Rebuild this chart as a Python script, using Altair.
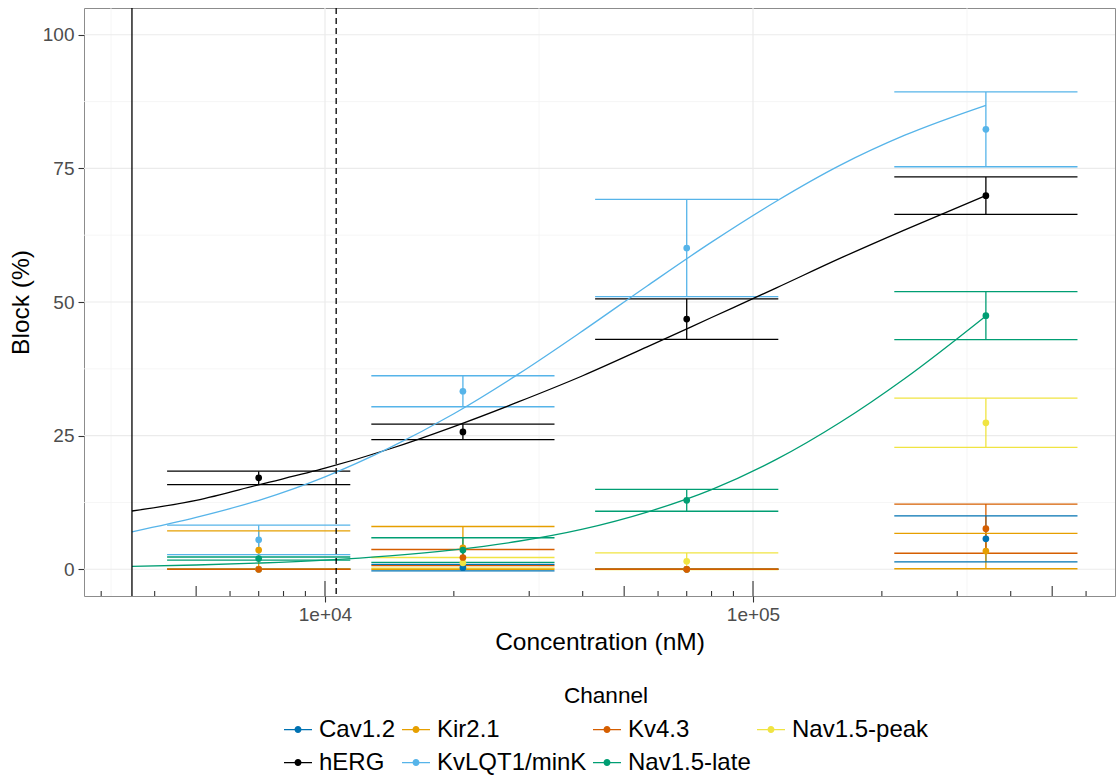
import altair as alt
import pandas as pd

# ---------------- data ----------------
channels = ["Cav1.2", "Kir2.1", "Kv4.3", "Nav1.5-peak", "hERG", "KvLQT1/minK", "Nav1.5-late"]
colors = ["#0072B2", "#E69F00", "#D55E00", "#F0E442", "#000000", "#56B4E9", "#009E73"]
draw_order = ["Cav1.2", "Nav1.5-peak", "Kir2.1", "Kv4.3", "Nav1.5-late", "hERG", "KvLQT1/minK"]

conc = [7000, 21000, 70000, 350000]
block_mean = {
    "Cav1.2":      [0.0, 0.3, 0.0, 5.7],
    "Kir2.1":      [3.6, 4.0, 0.0, 3.4],
    "Kv4.3":       [0.0, 2.2, 0.0, 7.6],
    "Nav1.5-peak": [0.0, 1.2, 1.5, 27.4],
    "hERG":        [17.1, 25.7, 46.8, 69.9],
    "KvLQT1/minK": [5.5, 33.3, 60.1, 82.3],
    "Nav1.5-late": [2.0, 3.6, 12.9, 47.45],
}
block_err = {
    "Cav1.2":      [0.0, 0.6, 0.0, 4.3],
    "Kir2.1":      [3.6, 4.0, 0.0, 3.3],
    "Kv4.3":       [0.0, 1.5, 0.0, 4.6],
    "Nav1.5-peak": [0.0, 1.0, 1.55, 4.6],
    "hERG":        [1.25, 1.45, 3.8, 3.5],
    "KvLQT1/minK": [2.75, 2.9, 9.1, 7.0],
    "Nav1.5-late": [0.3, 2.3, 2.05, 4.5],
}

# fitted curves
curve_conc = [3540, 5000, 7070, 10000, 14140, 20000, 28280, 40000, 56570, 80000,
              113100, 160000, 226300, 350000]
curve_block = {
    "hERG":        [10.9, 12.9, 15.9, 18.9, 22.5, 26.7, 31.3, 36.2, 41.6, 47.1,
                    52.6, 58.2, 63.5, 69.9],
    "KvLQT1/minK": [7.0, 9.7, 13.0, 17.3, 22.7, 29.1, 36.5, 44.6, 53.0, 61.2,
                    68.8, 75.6, 81.2, 86.8],
    "Nav1.5-late": [0.55, 0.80, 1.17, 1.71, 2.50, 3.63, 5.24, 7.51, 10.7, 14.9,
                    20.5, 27.5, 35.7, 47.4],
}

vline_solid = [3540]
vline_dashed = [10620]

x_tick_values = [10000, 100000]
x_tick_labels = ["1e+04", "1e+05"]
x_minor = [3162.3, 31622.8, 316227.8]
y_tick_values = [0, 25, 50, 75, 100]
y_minor = [12.5, 37.5, 62.5, 87.5]

logticks_short = [3000, 4000, 6000, 7000, 8000, 9000, 20000, 30000, 40000, 60000, 70000,
                  80000, 90000, 200000, 300000, 400000, 600000]
logticks_mid = [5000, 50000, 500000]
logticks_long = [10000, 100000]

# ---------------- layout ----------------
W, H = 1031, 588
PAD_L, PAD_T = 84, 8
CAP = 10 ** 0.214
FONT = "Liberation Sans"

rows = []
for ch in draw_order:
    for c, m, e in zip(conc, block_mean[ch], block_err[ch]):
        rows.append(dict(channel=ch, conc=c, block=m, lo=m - e, hi=m + e,
                         c_lo=c / CAP, c_hi=c * CAP))
df = pd.DataFrame(rows)

crow = []
for ch, vals in curve_block.items():
    for c, v in zip(curve_conc, vals):
        crow.append(dict(channel=ch, conc=c, block=v))
dfc = pd.DataFrame(crow)

xs = alt.Scale(type="log", domain=[2735, 701000], nice=False)
ys = alt.Scale(domain=[-5, 105], nice=False, zero=False)
cs = alt.Scale(domain=channels, range=colors)

label_expr = " : ".join(
    f"datum.value == {v} ? '{l}'" for v, l in zip(x_tick_values, x_tick_labels)) + " : ''"

x_axis = alt.Axis(
    values=x_tick_values, labelExpr=label_expr,
    grid=False, domain=False, tickSize=6, tickColor="#333333", tickWidth=1.1,
    labelFontSize=19, labelColor="#4D4D4D", labelPadding=3,
    titleFontSize=24.5, titleColor="black", titlePadding=6, titleFontWeight="normal")
y_axis = alt.Axis(
    values=y_tick_values, grid=False, domain=False,
    tickSize=6, tickColor="#333333", tickWidth=1.1,
    labelFontSize=19, labelColor="#4D4D4D", labelPadding=4,
    titleFontSize=24.5, titleColor="black", titlePadding=9, titleFontWeight="normal")

LEG_PATH = ("M-1,-0.048H1V0.048H-1Z "
            "M0.25,0A0.25,0.25 0 1 1 -0.25,0A0.25,0.25 0 1 1 0.25,0Z")
legend = alt.Legend(
    title="Channel", orient="none", legendX=200, legendY=677,
    direction="horizontal", columns=4, symbolType=LEG_PATH, symbolSize=784,
    symbolStrokeWidth=0, symbolOpacity=1, labelFontSize=24, titleFontSize=22.6,
    titleAnchor="middle", columnPadding=6, rowPadding=7, labelOffset=7,
    titlePadding=8, labelColor="black", titleColor="black",
    titleFontWeight="normal", labelLimit=0)


def xq(f):
    return alt.X(f, type="quantitative", scale=xs, axis=x_axis, title="Concentration (nM)")


def yq(f):
    return alt.Y(f, type="quantitative", scale=ys, axis=y_axis, title="Block (%)")


color = alt.Color("channel:N", scale=cs, legend=legend, title="Channel")

grid_minor_x = alt.Chart(pd.DataFrame({"v": x_minor})).mark_rule(
    color="#F4F4F4", strokeWidth=0.8).encode(x=xq("v"))
grid_minor_y = alt.Chart(pd.DataFrame({"v": y_minor})).mark_rule(
    color="#F4F4F4", strokeWidth=0.8).encode(y=yq("v"))
grid_major_x = alt.Chart(pd.DataFrame({"v": x_tick_values})).mark_rule(
    color="#EBEBEB", strokeWidth=1.2).encode(x=xq("v"))
grid_major_y = alt.Chart(pd.DataFrame({"v": y_tick_values})).mark_rule(
    color="#EBEBEB", strokeWidth=1.2).encode(y=yq("v"))

vsolid = alt.Chart(pd.DataFrame({"v": vline_solid})).mark_rule(
    color="black", strokeWidth=1.3).encode(x=xq("v"))
vdash = alt.Chart(pd.DataFrame({"v": vline_dashed})).mark_rule(
    color="black", strokeWidth=1.3, strokeDash=[6, 4]).encode(x=xq("v"))


def logtick(vals, length):
    return alt.Chart(pd.DataFrame({"v": vals})).mark_rule(
        color="#333333", strokeWidth=1.1).encode(
        x=xq("v"), y=alt.value(H), y2=alt.value(H - length))


lt_s = logtick(logticks_short, 5)
lt_m = logtick(logticks_mid, 10)
lt_l = logtick(logticks_long, 15)

base = alt.Chart(df)
err_v = base.mark_rule(strokeWidth=1.3).encode(
    x=xq("conc"), y=yq("lo"), y2="hi", color=color)
cap_lo = base.mark_rule(strokeWidth=1.3).encode(
    x=xq("c_lo"), x2="c_hi", y=yq("lo"), color=color)
cap_hi = base.mark_rule(strokeWidth=1.3).encode(
    x=xq("c_lo"), x2="c_hi", y=yq("hi"), color=color)

curves = alt.Chart(dfc).mark_line(strokeWidth=1.3, interpolate="monotone").encode(
    x=xq("conc"), y=yq("block"), color=color)

points = base.mark_circle(size=45, opacity=1).encode(
    x=xq("conc"), y=yq("block"), color=color)

chart = alt.layer(
    grid_minor_x, grid_minor_y, grid_major_x, grid_major_y,
    err_v, cap_lo, cap_hi, curves, vsolid, vdash, lt_s, lt_m, lt_l, points
).properties(
    width=W, height=H,
    padding={"left": PAD_L, "top": PAD_T, "right": 1118 - PAD_L - W, "bottom": 783 - PAD_T - H},
    autosize=alt.AutoSizeParams(type="none"),
    background="white",
).configure_view(
    stroke="#8C8C8C", strokeWidth=1
).configure_axis(
    labelFont=FONT, titleFont=FONT
).configure_legend(
    labelFont=FONT, titleFont=FONT
)

chart.save("out.html", embed_options={"renderer": "svg", "actions": False})
